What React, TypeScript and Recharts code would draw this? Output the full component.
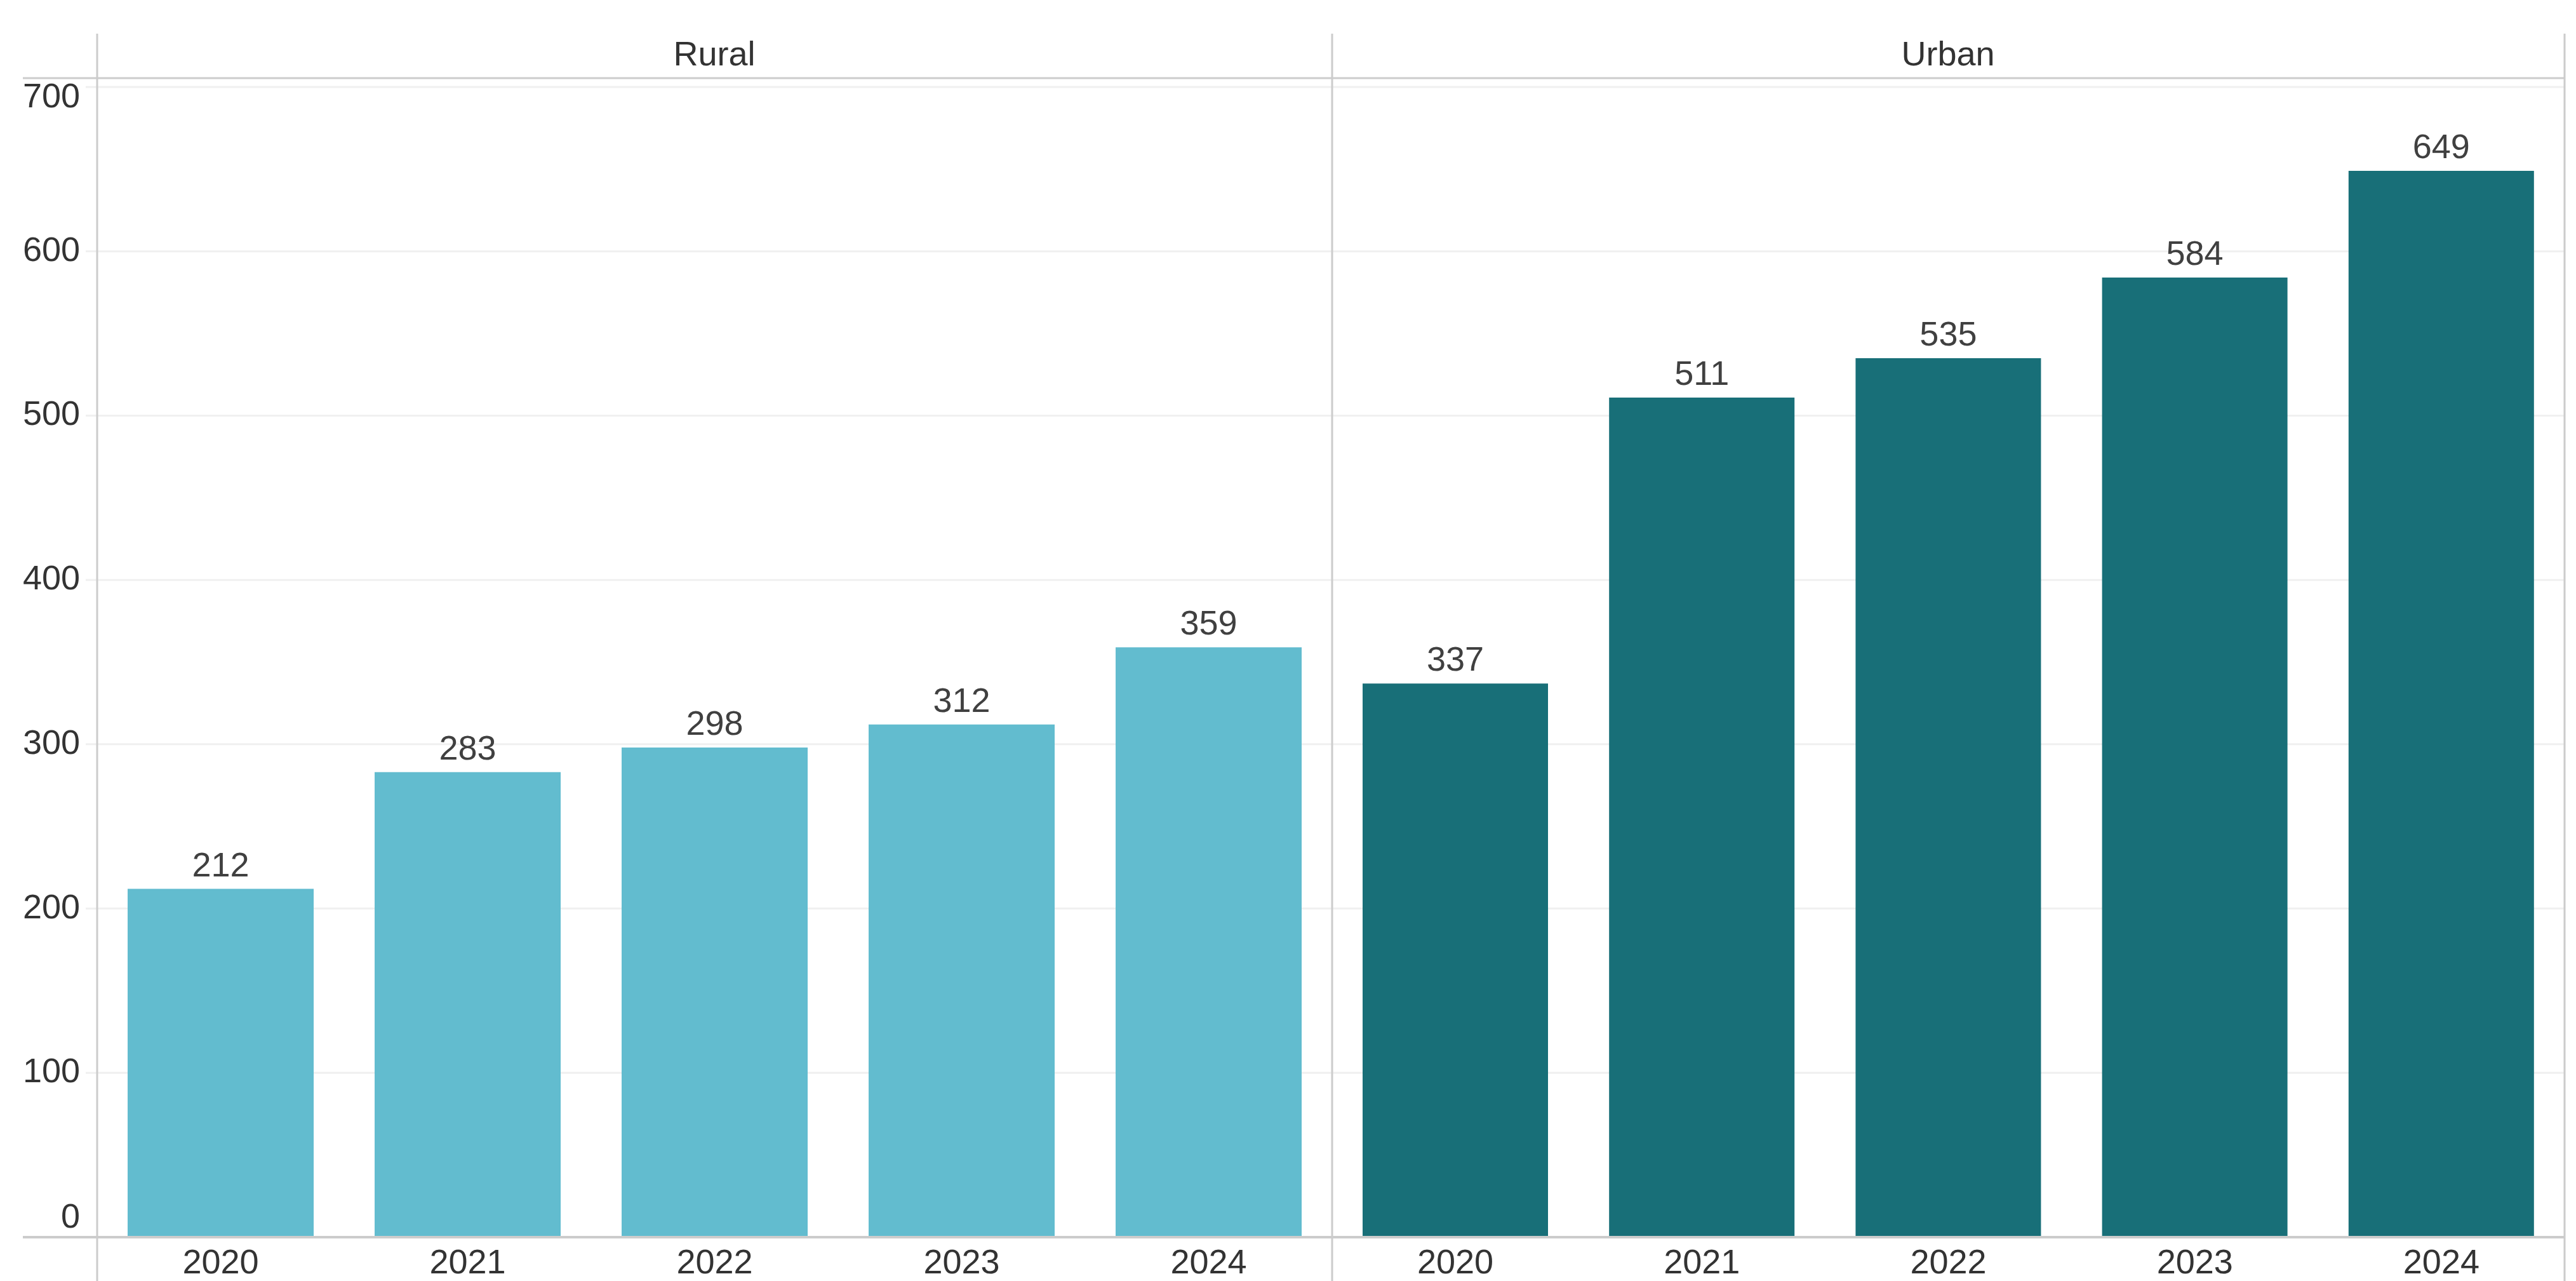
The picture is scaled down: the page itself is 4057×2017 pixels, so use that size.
import React from 'react';
import { BarChart, Bar, XAxis, YAxis, CartesianGrid, LabelList } from 'recharts';

const years = ['2020', '2021', '2022', '2023', '2024'];
const ruralValues = [212, 283, 298, 312, 359];
const urbanValues = [337, 511, 535, 584, 649];
const yTicks = [0, 100, 200, 300, 400, 500, 600, 700];
const panels = ['Rural', 'Urban'];

const RURAL_COLOR = '#62bccf';
const URBAN_COLOR = '#186f78';
const LINE = '#cccccc';
const GRID = '#f0f0f0';
const TEXT = '#333333';
const FONT = 'Arial, "Liberation Sans", sans-serif';
const FS = 54;

const ruralData = years.map((year, i) => ({ year, value: ruralValues[i] }));
const urbanData = years.map((year, i) => ({ year, value: urbanValues[i] }));

const YTick = (props: any) => {
  const { x, y, payload } = props;
  // Tableau keeps the end labels inside the pane
  let dy = 15;
  if (payload.value === 700) dy = 32;
  if (payload.value === 0) dy = -15;
  return (
    <text x={x} y={y + dy} textAnchor="end" fill={TEXT} fontSize={FS} fontFamily={FONT}>
      {payload.value}
    </text>
  );
};

const XTick = (props: any) => {
  const { x, y, payload } = props;
  return (
    <text x={x} y={y + 57} textAnchor="middle" fill={TEXT} fontSize={FS} fontFamily={FONT}>
      {payload.value}
    </text>
  );
};

const margin = { top: 137, right: 0, bottom: 0, left: 0 };

const App: React.FC = () => {
  return (
    <div style={{ position: 'absolute', left: 0, top: 0, width: 4057, height: 2017, background: '#fff', overflow: 'hidden' }}>
      <div style={{ position: 'absolute', left: 0, top: 0 }}>
        <BarChart width={2098} height={2017} data={ruralData} margin={margin} barCategoryGap={48}>
          <CartesianGrid horizontal vertical={false} stroke={GRID} strokeWidth={3} />
          <YAxis
            type="number"
            domain={[0, 700]}
            ticks={yTicks}
            width={153}
            axisLine={false}
            tickLine={{ stroke: GRID, strokeWidth: 3 }}
            tickSize={18}
            tickMargin={9}
            tick={<YTick />}
            interval={0}
          />
          <XAxis dataKey="year" height={69} axisLine={false} tickLine={false} tickSize={0} tickMargin={0} tick={<XTick />} interval={0} />
          <Bar dataKey="value" fill={RURAL_COLOR} isAnimationActive={false}>
            <LabelList dataKey="value" position="top" offset={20} fill="#404040" fontSize={FS} fontFamily={FONT} />
          </Bar>
        </BarChart>
      </div>
      <div style={{ position: 'absolute', left: 2098, top: 0 }}>
        <BarChart width={1941} height={2017} data={urbanData} margin={margin} barCategoryGap={48}>
          <CartesianGrid horizontal vertical={false} stroke={GRID} strokeWidth={3} />
          <YAxis type="number" domain={[0, 700]} ticks={yTicks} hide />
          <XAxis dataKey="year" height={69} axisLine={false} tickLine={false} tickSize={0} tickMargin={0} tick={<XTick />} interval={0} />
          <Bar dataKey="value" fill={URBAN_COLOR} isAnimationActive={false}>
            <LabelList dataKey="value" position="top" offset={20} fill="#404040" fontSize={FS} fontFamily={FONT} />
          </Bar>
        </BarChart>
      </div>
      <svg width={4057} height={2017} style={{ position: 'absolute', left: 0, top: 0, pointerEvents: 'none' }}>
        <line x1={36} x2={4040} y1={123} y2={123} stroke={LINE} strokeWidth={3} />
        <line x1={36} x2={4040} y1={1948} y2={1948} stroke={LINE} strokeWidth={4} />
        <line x1={153} x2={153} y1={53} y2={2017} stroke={LINE} strokeWidth={3} />
        <line x1={2098} x2={2098} y1={53} y2={2017} stroke={LINE} strokeWidth={3} />
        <line x1={4039} x2={4039} y1={53} y2={2017} stroke={LINE} strokeWidth={3} />
        <text x={1125} y={103} textAnchor="middle" fill={TEXT} fontSize={FS} fontFamily={FONT}>{panels[0]}</text>
        <text x={3068} y={103} textAnchor="middle" fill={TEXT} fontSize={FS} fontFamily={FONT}>{panels[1]}</text>
      </svg>
    </div>
  );
};

export default App;
